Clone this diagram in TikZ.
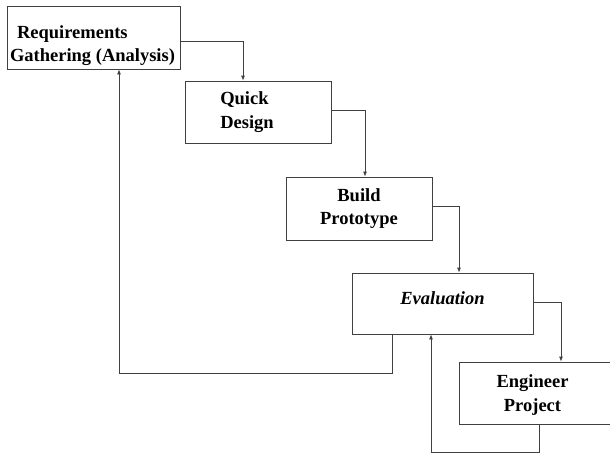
\documentclass[tikz,border=0pt]{standalone}
\usepackage{fontspec}
\setmainfont{Liberation Serif}
\usetikzlibrary{arrows.meta}

\tikzset{
  stage/.style={draw=black!75, line width=0.8pt, inner sep=0pt},
  stagetext/.style={font=\fontsize{18.5}{23.5}\selectfont\bfseries, align=center, inner sep=0pt},
  flow/.style={draw=black!75, line width=0.8pt, -{Latex[length=5pt,width=4pt]}}
}

\begin{document}
\begin{tikzpicture}[x=1pt, y=-1pt]
      \useasboundingbox (0,0) rectangle (610,456);
      % Define nodes
      \node[stage, minimum width=173pt, minimum height=63pt,
            label={[stagetext, align=left, xshift=-1pt, yshift=-8pt]center:{\hspace*{7pt}Requirements\\Gathering (Analysis)}}]
            (req) at (93.5,37.5) {};
      \node[stage, minimum width=146pt, minimum height=62pt,
            label={[stagetext, align=left, xshift=-11pt]center:{Quick\\Design}}]
            (quick) at (258,112) {};
      \node[stage, minimum width=146pt, minimum height=63pt,
            label={[stagetext]center:{Build\\Prototype}}]
            (build) at (359,208.5) {};
      \node[stage, minimum width=181pt, minimum height=61pt,
            label={[stagetext, yshift=5pt]center:{\itshape Evaluation}}]
            (eval) at (442.5,303.5) {};
      \node[stage, minimum width=153pt, minimum height=62pt,
            label={[stagetext, xshift=-3pt, yshift=-2pt]center:{Engineer\\Project}}]
            (eng) at (535.5,393) {};
      % Connect nodes
      \draw[flow] ([yshift=-3.5pt]req.east) -| ([xshift=-15pt]quick.north);
      \draw[flow] ([yshift=2pt]quick.east) -| ([xshift=6pt]build.north);
      \draw[flow] ([yshift=2.5pt]build.east) -| ([xshift=16.5pt]eval.north);
      \draw[flow] ([yshift=1.5pt]eval.east) -| ([xshift=25.5pt]eng.north);
      \draw[flow] ([xshift=-50.5pt]eval.south) -- ++(0,39) -| ([xshift=25.5pt]req.south);
      \draw[flow] ([xshift=3.5pt]eng.south) -- ++(0,28) -| ([xshift=-11.5pt]eval.south);
    \end{tikzpicture}
\end{document}
